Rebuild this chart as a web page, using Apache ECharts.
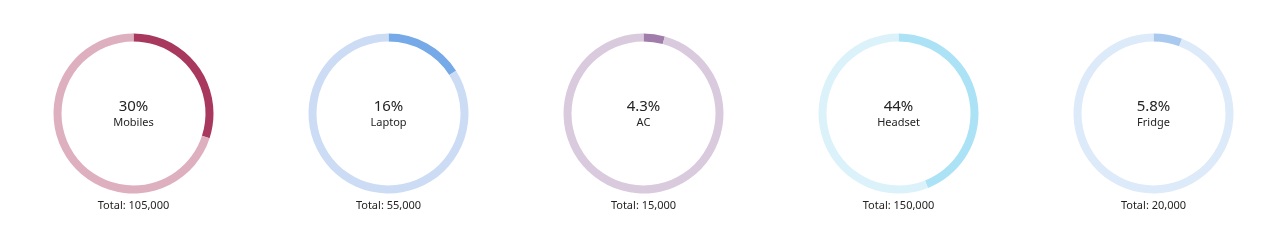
<!DOCTYPE html>
<html>
<head>
<meta charset="utf-8">
<script src="https://cdn.jsdelivr.net/npm/echarts@6/dist/echarts.min.js"></script>
<style>html,body{margin:0;padding:0;background:#fff;}#c{width:1276px;height:251px;}</style>
</head>
<body>
<div id="c"></div>
<script>
const categories = ['Mobiles', 'Laptop', 'AC', 'Headset', 'Fridge'];
const percents = [30, 16, 4.3, 44, 5.8];
const totals = [105000, 55000, 15000, 150000, 20000];
const darkColors = ['#A8385D', '#75A9E7', '#A07DAA', '#ACE2F5', '#AAC9EF'];
const lightColors = ['#DDAFBF', '#CCDCF5', '#D9CADE', '#DCF2FA', '#DDEAF9'];

const FONT = '"Segoe UI", "Noto Sans", "Open Sans", sans-serif';
const chart = echarts.init(document.getElementById('c'), null, {renderer: 'canvas'});
const series = [];
const graphic = [];
categories.forEach((name, i) => {
  const cx = 133.5 + i * 255;
  const cy = 113.5;
  series.push({
    type: 'pie',
    center: [cx, cy],
    radius: [72, 80],
    startAngle: 90,
    clockwise: true,
    silent: true,
    animation: false,
    label: {show: false},
    labelLine: {show: false},
    data: [
      {value: percents[i], name: name, itemStyle: {color: darkColors[i]}},
      {value: 100 - percents[i], name: 'rest', itemStyle: {color: lightColors[i]}}
    ]
  });
  graphic.push({
    type: 'text', x: cx, y: 106.5,
    style: {text: percents[i] + '%', textAlign: 'center', textVerticalAlign: 'middle',
      font: '15px ' + FONT, fill: '#252423'}
  });
  graphic.push({
    type: 'text', x: cx, y: 122.5,
    style: {text: name, textAlign: 'center', textVerticalAlign: 'middle',
      font: '11px ' + FONT, fill: '#252423'}
  });
  graphic.push({
    type: 'text', x: cx, y: 206,
    style: {text: 'Total: ' + totals[i].toLocaleString('en-US'), textAlign: 'center', textVerticalAlign: 'middle',
      font: '11px ' + FONT, fill: '#252423'}
  });
});
chart.setOption({animation: false, series: series, graphic: graphic});
</script>
</body>
</html>
